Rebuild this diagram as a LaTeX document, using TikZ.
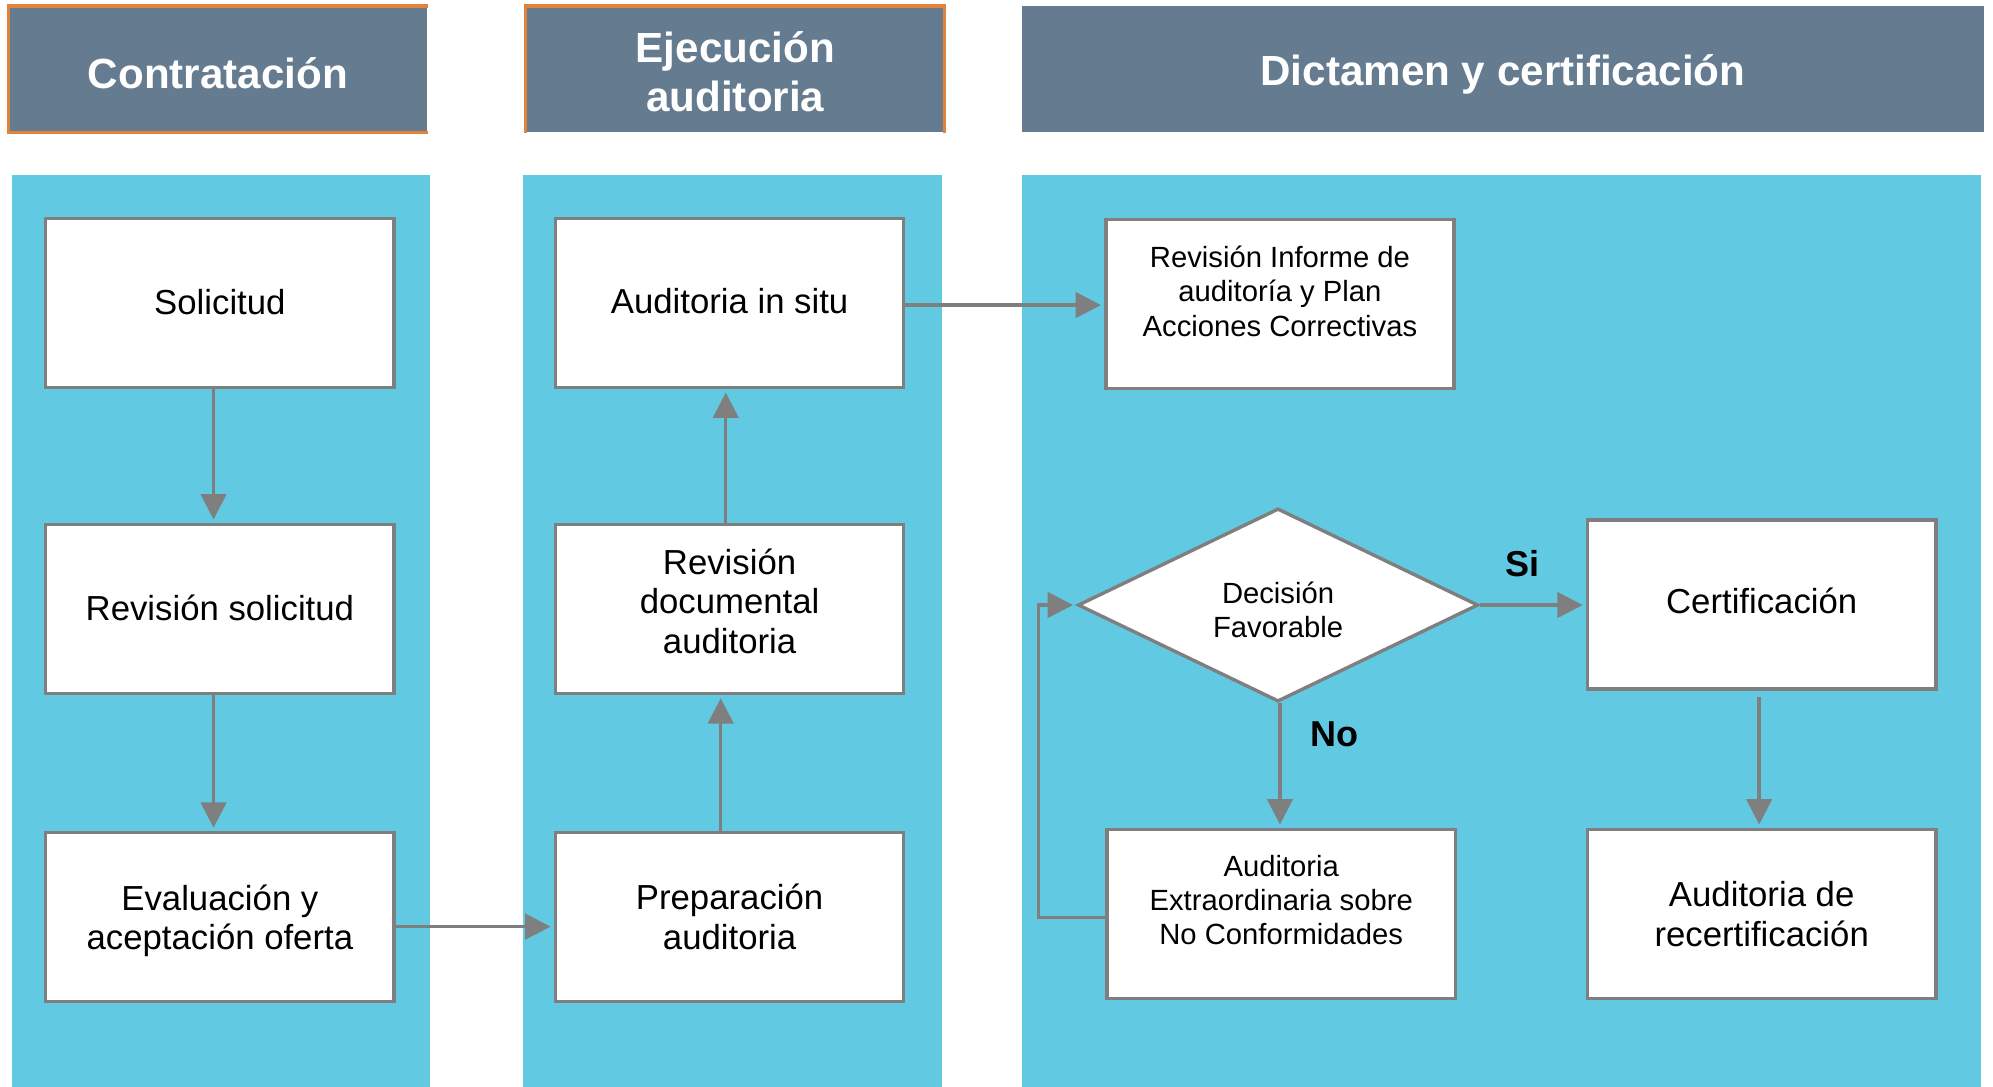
\documentclass[tikz,border=0pt]{standalone}
\usepackage{fontspec}
\setmainfont{Liberation Sans}
\usetikzlibrary{arrows.meta,shapes.geometric}
\definecolor{hdr}{HTML}{657B90}
\definecolor{lane}{HTML}{62C9E2}
\definecolor{orng}{HTML}{E0843C}
\definecolor{ln}{HTML}{7F7F7F}
\tikzset{
  header/.style={fill=hdr, inner sep=0pt},
  htext/.style={text=white, font=\fontsize{19.9}{22.8}\selectfont\bfseries, align=center, inner sep=0pt},
  lanebox/.style={fill=lane, draw=none, inner sep=0pt, anchor=north west},
  stepbox/.style={draw=ln, line width=1.6pt, fill=white, minimum width=164.4pt, minimum height=79.8pt, inner sep=2pt},
  btext/.style={align=center, inner sep=0pt, font=\fontsize{16.4}{18.6}\selectfont},
  stext/.style={align=center, inner sep=0pt, font=\fontsize{13.8}{16.2}\selectfont},
  decision/.style={diamond, draw=ln, line width=1.6pt, fill=white, minimum width=189pt, minimum height=91.2pt, inner sep=0pt},
  arr/.style={draw=ln, line width=1.6pt, -{Triangle[length=12pt,width=12pt]}, shorten >=1.5pt},
  lbl/.style={font=\fontsize{17}{19}\selectfont\bfseries, text=black, inner sep=0pt}
}
\begin{document}
\begin{tikzpicture}[x=0.6pt,y=-0.6pt]
\useasboundingbox (0,0) rectangle (1568,855);
\fill[white] (0,0) rectangle (1568,855);
% lanes
\node[lanebox, minimum width=197.4pt, minimum height=430.8pt] (L1) at (9,137) {};
\node[lanebox, minimum width=198pt, minimum height=430.8pt] (L2) at (411,137) {};
\node[lanebox, minimum width=452.4pt, minimum height=430.8pt] (L3) at (804,137) {};
% headers
\node[header, minimum width=197.4pt, minimum height=59.4pt,
  label={[htext, yshift=-1.8pt]center:Contratación}] (H1) at (171.5,54.5) {};
\node[header, minimum width=197.4pt, minimum height=59.4pt,
  label={[htext, yshift=-1.2pt]center:{Ejecución\\auditoria}}] (H2) at (578.5,54.5) {};
\node[header, minimum width=454.2pt, minimum height=59.4pt,
  label={[htext, yshift=-2.4pt]center:Dictamen y certificación}] (H3) at (1182.5,54.5) {};
\draw[orng, line width=1.5pt] (H1.north east) -- (H1.north west) -- (H1.south west) -- (H1.south east);
\draw[orng, line width=1.5pt] (H2.south west) -- (H2.north west) -- (H2.north east) -- (H2.south east);
% boxes
\node[stepbox, label={[btext, yshift=0.6pt]center:Solicitud}] (B1) at (173,238.5) {};
\node[stepbox, label={[btext, yshift=0.6pt]center:Revisión solicitud}] (B2) at (173,479) {};
\node[stepbox, label={[btext, yshift=-1.8pt]center:{Evaluación y\\aceptación oferta}}] (B3) at (173,721.5) {};
\node[stepbox, label={[btext, yshift=1.2pt]center:Auditoria in situ}] (B4) at (574,238.5) {};
\node[stepbox, label={[btext, yshift=3.6pt]center:{Revisión\\documental\\auditoria}}] (B5) at (574,479) {};
\node[stepbox, label={[btext, yshift=0pt]center:{Preparación\\auditoria}}] (B6) at (574,721.5) {};
\node[stepbox, label={[stext, yshift=6pt]center:{Revisión Informe de\\auditoría y Plan\\Acciones Correctivas}}] (B7) at (1007,239) {};
\node[decision, label={[stext, yshift=-2.4pt]center:{Decisión\\Favorable}}] (D) at (1005.5,476) {};
\node[stepbox, label={[btext, yshift=1.8pt]center:Certificación}] (B8) at (1386,475.5) {};
\node[stepbox, label={[stext, yshift=6.6pt]center:{Auditoria\\Extraordinaria sobre\\No Conformidades}}] (B9) at (1008,719) {};
\node[stepbox, label={[btext, yshift=0pt]center:{Auditoria de\\recertificación}}] (B10) at (1386,719) {};
% connectors
\draw[arr] (B1.south -| 168,0) -- (B2.north -| 168,0);
\draw[arr] (B2.south -| 168,0) -- (B3.north -| 168,0);
\draw[arr] (B3.east |- 0,729) -- (B6.west |- 0,729);
\draw[arr] (B6.north -| 567,0) -- (B5.south -| 567,0);
\draw[arr] (B5.north -| 571,0) -- (B4.south -| 571,0);
\draw[arr] (B4.east |- 0,240) -- (B7.west |- 0,240);
\draw[arr] (D.east) -- (B8.west |- D.east) node[lbl, pos=0.4, above=12.4pt] {Si};
\draw[arr] (D.south -| 1007,0) -- (B9.north -| 1007,0) node[lbl, pos=0.25, right=13.8pt] {No};
\draw[arr] (B9.west |- 0,722) -- (817,722) |- (D.west);
\draw[arr] (1384,548) -- (B10.north -| 1384,0);
\end{tikzpicture}
\end{document}
